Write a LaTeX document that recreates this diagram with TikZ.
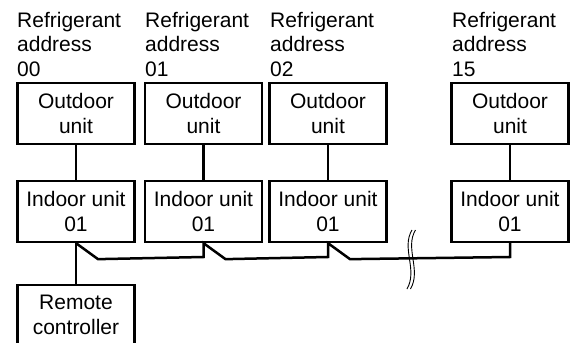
\documentclass[tikz,border=0pt]{standalone}
\usepackage{fontspec}
\setmainfont{Liberation Sans}
\begin{document}
\begin{tikzpicture}[x=1pt,y=-1pt,
  unitbox/.style={draw, line width=2.3pt, minimum width=117pt, minimum height=61pt, inner sep=0pt, align=center, font=\fontsize{21}{25}\selectfont},
  heading/.style={anchor=north west, inner sep=0pt, align=left, font=\fontsize{21}{24.5}\selectfont},
  wire/.style={line width=2.5pt, line join=miter},
  breakline/.style={line width=0.9pt}]
\useasboundingbox (0,0) rectangle (571,343);
\clip (0,0) rectangle (571,343);
% headings
\node[heading] (h1) at (17,11.7) {Refrigerant\\address\\00};
\node[heading] (h2) at (145,11.7) {Refrigerant\\address\\01};
\node[heading] (h3) at (270,11.7) {Refrigerant\\address\\02};
\node[heading] (h4) at (452,11.7) {Refrigerant\\address\\15};
% outdoor units
\node[unitbox] (o1) at (76,113.5) {Outdoor\\unit};
\node[unitbox] (o2) at (203.5,113.5) {Outdoor\\unit};
\node[unitbox] (o3) at (328,113.5) {Outdoor\\unit};
\node[unitbox] (o4) at (510,113.5) {Outdoor\\unit};
% indoor units
\node[unitbox] (i1) at (76,211.5) {Indoor unit\\01};
\node[unitbox] (i2) at (203.5,211.5) {Indoor unit\\01};
\node[unitbox] (i3) at (328,211.5) {Indoor unit\\01};
\node[unitbox] (i4) at (510,211.5) {Indoor unit\\01};
% remote controller
\node[unitbox, minimum height=60pt] (rc) at (76,315) {Remote\\controller};
% vertical connectors
\foreach \k in {1,2,3,4} \draw[wire] (o\k.south) -- (i\k.north);
\draw[wire] (i1.south) -- (rc.north);
% bus
\coordinate (bus) at (0,257);
\draw[wire] (i1.south) -- ++(22,16) -- (i2.south |- bus) -- (i2.south)
  -- ++(22,16) -- (i3.south |- bus) -- (i3.south)
  -- ++(22,16) -- (i4.south |- bus) -- (i4.south);
% break symbol
\draw[breakline] (412,230) .. controls (401,248) and (418,270) .. (407,289);
\draw[breakline] (415.5,230) .. controls (404.5,248) and (421.5,270) .. (410.5,289);
\end{tikzpicture}
\end{document}
